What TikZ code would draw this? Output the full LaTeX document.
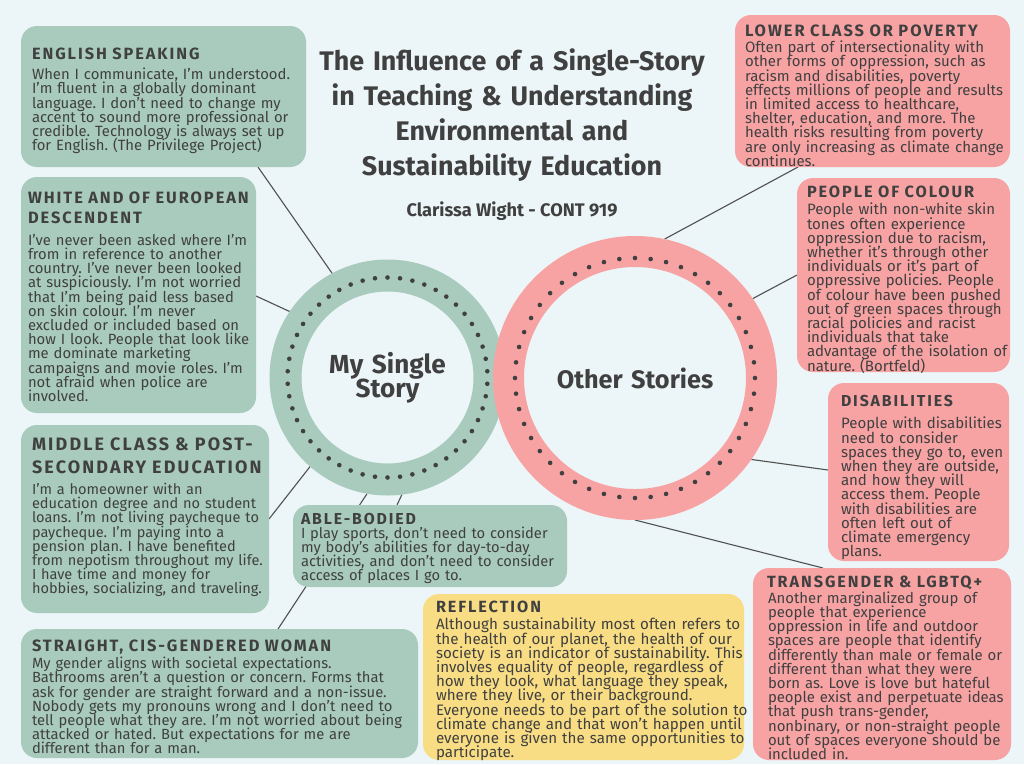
\documentclass[tikz,border=0pt]{standalone}
\usepackage{fontspec}
\setmainfont{Fira Sans}
\usetikzlibrary{calc}
\definecolor{bg}{HTML}{ECF5F7}
\definecolor{grn}{HTML}{A8CBBD}
\definecolor{pnk}{HTML}{F7A3A4}
\definecolor{ylw}{HTML}{F8DD85}
\definecolor{ink}{HTML}{404040}
\definecolor{ln}{HTML}{505050}
\frenchspacing
\newlength\fitw
\newcommand\fitfont[3]{\settowidth\fitw{\fontsize{10}{12}\selectfont #3}\pgfmathsetmacro\fitsz{10*#1/\fitw}\fontsize{\fitsz}{#2}\selectfont\lineskiplimit=-100pt\lineskip=0pt\relax}
\newcommand\hfit[2]{\bfseries\addfontfeature{LetterSpace=12}\fitfont{#1}{21}{#2}}
\newcommand\bfit[2]{\fitfont{#1}{14.2}{#2}}
\newcommand\hs{\noindent\rule{0pt}{11pt}}
\newcommand\bs{\noindent\rule{0pt}{9.94pt}}
\pgfdeclarelayer{bgl}
\pgfdeclarelayer{lines}
\pgfsetlayers{bgl,lines,main}
\tikzset{
  box/.style={rounded corners=16pt, inner sep=0pt, outer sep=0pt, anchor=north west},
  txt/.style={anchor=north west, inner sep=0pt, outer sep=0pt, text=ink, text width=420pt, align=left},
  conn/.style={draw=ln, line width=1.1pt},
  ring/.style={circle, inner sep=0pt, text=ink, align=center, text width=170pt},
  dot/.style={fill=ink}
}
\begin{document}
\begin{tikzpicture}[x=1pt,y=-1pt]
\useasboundingbox (0,0) rectangle (1024,764);
\begin{pgfonlayer}{bgl}
\fill[bg] (0,0) rectangle (1024,764);
\end{pgfonlayer}

% title
\node[anchor=north, inner sep=0pt, text=ink, text width=460pt, align=center,
  font={\bfseries\fitfont{375}{35}{The Influence of a Single-Story}}] (title) at (512,45.5)
  {\noindent\rule{0pt}{24.5pt}The Influence of a Single-Story\\in Teaching \& Understanding\\Environmental and\\Sustainability Education};
\node[anchor=base, inner sep=0pt, text=ink, font={\bfseries\fitfont{211}{20}{Clarissa Wight - CONT 919}}] (sub) at (512,216.7) {Clarissa Wight - CONT 919};

% circles
\node[ring, draw=grn, line width=32pt, minimum size=204pt, font={\bfseries\fitfont{114}{24}{My Single}}] (ms) at (387.5,377.5) {My Single\\Story};
\node[ring, draw=pnk, line width=31pt, minimum size=253pt, font={\bfseries\fitfont{154}{24}{Other Stories}}] (os) at (635,378) {Other Stories};
\foreach \i in {0,...,49}{%
  \pgfmathsetmacro\ang{90+\i*7.2}%
  \fill[dot] (ms.center) ++(\ang:100pt) circle (2.3pt);}
\foreach \i in {0,...,47}{%
  \pgfmathsetmacro\ang{90+\i*7.5}%
  \fill[dot] (os.center) ++(\ang:120pt) circle (2.3pt);}

% boxes
\node[box, fill=grn, minimum width=285pt, minimum height=141pt] (eng) at (21,26) {};
\node[box, fill=grn, minimum width=235pt, minimum height=236pt] (white) at (21,177) {};
\node[box, fill=grn, minimum width=248pt, minimum height=188pt] (mid) at (21,425) {};
\node[box, fill=grn, minimum width=397pt, minimum height=129pt] (str) at (21,629) {};
\node[box, fill=grn, minimum width=274pt, minimum height=82pt] (able) at (293,505) {};
\node[box, fill=ylw, minimum width=321pt, minimum height=166pt] (refl) at (423,594) {};
\node[box, fill=pnk, minimum width=275pt, minimum height=152pt] (low) at (735,15) {};
\node[box, fill=pnk, minimum width=213pt, minimum height=194pt] (poc) at (797,178) {};
\node[box, fill=pnk, minimum width=181pt, minimum height=178pt] (dis) at (828,383) {};
\node[box, fill=pnk, minimum width=258pt, minimum height=192pt] (trans) at (753,568) {};

% texts
\node[txt, font={\hfit{168}{ENGLISH SPEAKING}}] (engh) at (32,47.7) {\hs ENGLISH SPEAKING};
\node[txt, font={\bfit{254}{When I communicate, I’m understood.}}] (engb) at (32,68.1) {\bs When I communicate, I’m understood.\\I’m fluent in a globally dominant\\language. I don’t need to change my\\accent to sound more professional or\\credible. Technology is always set up\\for English. (The Privilege Project)};

\node[txt, font={\hfit{222}{WHITE AND OF EUROPEAN}\fontsize{\fitsz}{20}\selectfont}] (whiteh) at (28,192.3) {\hs WHITE AND OF EUROPEAN\\DESCENDENT};
\node[txt, font={\bfit{215}{how I look. People that look like}}] (whiteb) at (28,234.1) {\bs I’ve never been asked where I’m\\from in reference to another\\country. I’ve never been looked\\at suspiciously. I’m not worried\\that I’m being paid less based\\on skin colour. I’m never\\excluded or included based on\\how I look. People that look like\\me dominate marketing\\campaigns and movie roles. I’m\\not afraid when police are\\involved.};

\node[txt, font={\hfit{230}{SECONDARY EDUCATION}\fontsize{\fitsz}{23}\selectfont}] (midh) at (32,438) {\hs MIDDLE CLASS \& POST-\\SECONDARY EDUCATION};
\node[txt, font={\bfit{227}{hobbies, socializing, and traveling.}}] (midb) at (32,483.1) {\bs I’m a homeowner with an\\education degree and no student\\loans. I’m not living paycheque to\\paycheque. I’m paying into a\\pension plan. I have benefited\\from nepotism throughout my life.\\I have time and money for\\hobbies, socializing, and traveling.};

\node[txt, font={\hfit{300}{STRAIGHT, CIS-GENDERED WOMAN}}] (strh) at (32,639.7) {\hs STRAIGHT, CIS-GENDERED WOMAN};
\node[txt, font={\bfit{361}{tell people what they are. I’m not worried about being}}] (strb) at (32,657.1) {\bs My gender aligns with societal expectations.\\Bathrooms aren’t a question or concern. Forms that\\ask for gender are straight forward and a non-issue.\\Nobody gets my pronouns wrong and I don’t need to\\tell people what they are. I’m not worried about being\\attacked or hated. But expectations for me are\\different than for a man.};

\node[txt, font={\hfit{115}{ABLE-BODIED}}] (ableh) at (301,513) {\hs ABLE-BODIED};
\node[txt, font={\bfit{248}{activities, and don’t need to consider}}] (ableb) at (301,526.6) {\bs I play sports, don’t need to consider\\my body’s abilities for day-to-day\\activities, and don’t need to consider\\access of places I go to.};

\node[txt, font={\hfit{105}{REFLECTION}}] (reflh) at (436,600.7) {\hs REFLECTION};
\node[txt, font={\bfit{299}{Although sustainability most often refers to}}] (reflb) at (436,618.1) {\bs Although sustainability most often refers to\\the health of our planet, the health of our\\society is an indicator of sustainability. This\\involves equality of people, regardless of\\how they look, what language they speak,\\where they live, or their background.\\Everyone needs to be part of the solution to\\climate change and that won’t happen until\\everyone is given the same opportunities to\\participate.};

\node[txt, font={\hfit{234}{LOWER CLASS OR POVERTY}}] (lowh) at (745,24.7) {\hs LOWER CLASS OR POVERTY};
\node[txt, font={\bfit{253}{effects millions of people and results}}] (lowb) at (745,41.1) {\bs Often part of intersectionality with\\other forms of oppression, such as\\racism and disabilities, poverty\\effects millions of people and results\\in limited access to healthcare,\\shelter, education, and more. The\\health risks resulting from poverty\\are only increasing as climate change\\continues.};

\node[txt, font={\hfit{168}{PEOPLE OF COLOUR}}] (poch) at (807,185.7) {\hs PEOPLE OF COLOUR};
\node[txt, font={\bfit{196}{advantage of the isolation of}}] (pocb) at (807,203.1) {\bs People with non-white skin\\tones often experience\\oppression due to racism,\\whether it’s through other\\individuals or it’s part of\\oppressive policies. People\\of colour have been pushed\\out of green spaces through\\racial policies and racist\\individuals that take\\advantage of the isolation of\\nature. (Bortfeld)};

\node[txt, font={\hfit{112}{DISABILITIES}}] (dish) at (841,395.7) {\hs DISABILITIES};
\node[txt, font={\bfit{158}{spaces they go to, even}}] (disb) at (841,417.1) {\bs People with disabilities\\need to consider\\spaces they go to, even\\when they are outside,\\and how they will\\access them. People\\with disabilities are\\often left out of\\climate emergency\\plans.};

\node[txt, font={\hfit{216}{TRANSGENDER \& LGBTQ+}}] (transh) at (767,575.7) {\hs TRANSGENDER \& LGBTQ+};
\node[txt, font={\bfit{229}{differently than male or female or}}] (transb) at (768,591.6) {\bs Another marginalized group of\\people that experience\\oppression in life and outdoor\\spaces are people that identify\\differently than male or female or\\different than what they were\\born as. Love is love but hateful\\people exist and perpetuate ideas\\that push trans-gender,\\nonbinary, or non-straight people\\out of spaces everyone should be\\included in.};

% connectors
\begin{pgfonlayer}{lines}
\draw[conn] ($(eng.south west)+(237,0)$) -- (ms.118);
\draw[conn] ($(white.north east)+(0,119)$) -- (ms.146.4);
\draw[conn] ($(mid.north east)+(0,94)$) -- (ms.229.1);
\draw[conn] ($(str.north west)+(257,0)$) -- (ms.260.1);
\draw[conn] ($(able.north west)+(104,0)$) -- (ms.277.5);
\draw[conn] ($(low.south west)+(63,0)$) -- (os.78.3);
\draw[conn] ($(poc.north west)+(0,97)$) -- (os.34.1);
\draw[conn] ($(dis.north west)+(0,87)$) -- (os.325.2);
\draw[conn] ($(trans.north west)+(70,0)$) -- (os.270.4);
\end{pgfonlayer}
\end{tikzpicture}
\end{document}
